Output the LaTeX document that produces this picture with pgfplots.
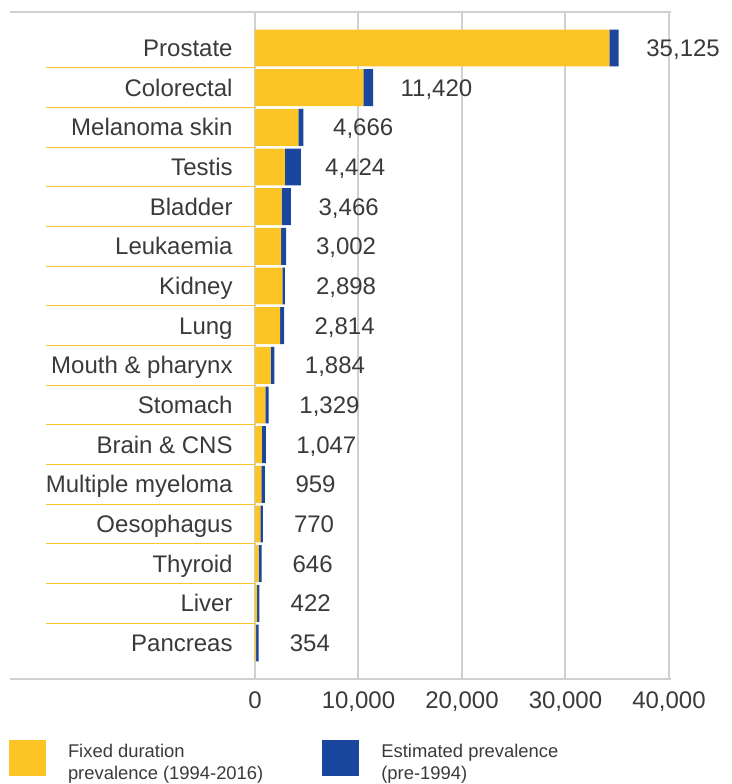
\documentclass[border=0pt]{standalone}
\usepackage{pgfplots}
\pgfplotsset{compat=1.18}
\usepackage{pgfplotstable}
\usepackage{fontspec}
\setmainfont{Liberation Sans}
\definecolor{cyellow}{HTML}{FCC425}
\definecolor{cblue}{HTML}{1A469E}
\definecolor{cgrid}{HTML}{D0D0D0}
\definecolor{ctext}{HTML}{3A3A3A}
\newcommand{\lab}{\fontsize{12}{14}\selectfont}
\newcommand{\legfont}{\fontsize{9.2}{11}\selectfont}

\pgfplotstableread{
y fixed est total
0 34250 875 35,125
1 10468 952 11,420
2 4190 476 4,666
3 2885 1539 4,424
4 2575 891 3,466
5 2533 469 3,002
6 2635 263 2,898
7 2439 375 2,814
8 1507 377 1,884
9 997 332 1,329
10 666 381 1,047
11 610 349 959
12 513 257 770
13 359 287 646
14 211 211 422
15 118 236 354
}\datatable

\begin{document}
\begin{tikzpicture}
\begin{axis}[
  scale only axis, width=207pt, height=333.5pt,
  xbar stacked, bar width=0.93,
  xmin=0, xmax=40000, ymin=-0.907, ymax=15.907, y dir=reverse,
  enlarge x limits=false, enlarge y limits=false,
  clip=false,
  axis line style={draw=none},
  scaled x ticks=false,
  xtick={0,10000,20000,30000,40000},
  xticklabels={0,{10,000},{20,000},{30,000},{40,000}},
  xmajorgrids, grid style={cgrid, line width=1pt},
  ytick={0,...,15},
  yticklabels={Prostate,Colorectal,Melanoma skin,Testis,Bladder,Leukaemia,Kidney,Lung,Mouth \& pharynx,Stomach,Brain \& CNS,Multiple myeloma,Oesophagus,Thyroid,Liver,Pancreas},
  major tick length=0pt,
  tick pos=left,
  tick align=outside,
  extra y ticks={0.5,1.5,...,14.5},
  extra y tick labels={},
  extra y tick style={major tick length=104.5pt, tick style={draw=cyellow, line width=0.6pt}},
  xticklabel style={font=\lab, text=ctext, inner sep=0pt, yshift=-6pt},
  yticklabel style={font=\lab, text=ctext, inner sep=0pt, anchor=base east, xshift=-11pt, yshift=-4.3pt},
  /pgf/number format/assume math mode=true,
  legend columns=2,
  legend cell align=left,
  legend style={at={(-0.5942,-0.0914)}, anchor=north west, draw=none, fill=none,
    font=\legfont, text=ctext, inner sep=0pt, outer sep=0pt, nodes={inner sep=0pt},
    /tikz/every odd column/.append style={column sep=11pt},
    /tikz/every even column/.append style={column sep=29.5pt}},
  legend image code/.code={\fill[#1] (0pt,-9.75pt) rectangle (18.5pt,8.25pt);},
]
\addplot[fill=cyellow, draw=none] table[x=fixed, y=y] {\datatable};
\addlegendentry{\begin{tabular}{@{}l@{}}Fixed duration\\prevalence (1994-2016)\end{tabular}}
\addplot[fill=cblue, draw=none, nodes near coords, point meta=explicit symbolic,
  nodes near coords style={font=\lab, text=ctext, anchor=base west, inner sep=0pt, xshift=16pt, yshift=-4.3pt}]
  table[x=est, y=y, meta=total] {\datatable};
\addlegendentry{\begin{tabular}{@{}l@{}}Estimated prevalence\\(pre-1994)\end{tabular}}
\end{axis}
\draw[cgrid, line width=1pt] (-122.5pt,0) -- (208pt,0);
\draw[cgrid, line width=1pt] (-122.5pt,333.5pt) -- (208pt,333.5pt);
\pgfresetboundingbox
\path[use as bounding box] (-127.5pt,-52.5pt) rectangle (238.5pt,339.5pt);
\end{tikzpicture}
\end{document}
